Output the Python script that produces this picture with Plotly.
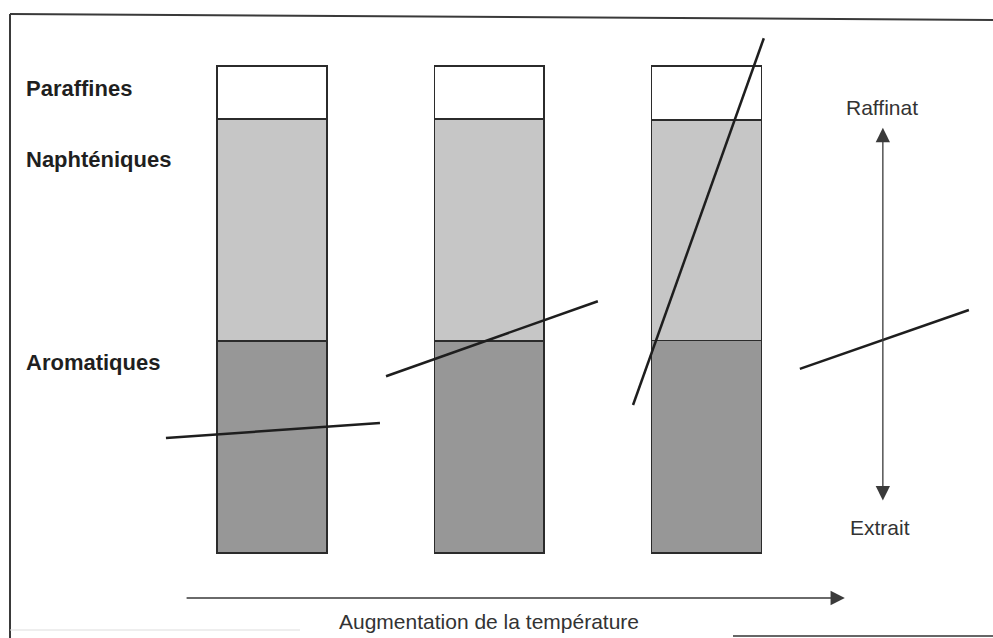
import plotly.graph_objects as go

# composition of each cut (% of the feed), bottom to top
positions = [1, 2, 3]
aromatiques = [43.5, 43.5, 43.6]
naphteniques = [45.6, 45.6, 45.3]
paraffines = [10.9, 10.9, 11.1]

# separation lines (raffinat / extrait) at increasing temperature
cut_x = [[0.512, 1.497], [1.525, 2.500], [2.662, 3.264], [3.430, 4.208]]
cut_y = [[23.6, 26.7], [36.3, 51.7], [30.4, 105.7], [37.8, 49.9]]

# arrows (start, end)
arrow_v_x = 3.812
arrow_v_y = [10.5, 87.3]
arrow_h_x = [0.600, 3.637]
arrow_h_y = -9.24

W, H = 993, 638
EDGE = "#2b2b2b"


def px(x):
    return x / W


def py(y):
    return 1 - y / H


fig = go.Figure()

for name, vals, color in [
    ("Aromatiques", aromatiques, "#979797"),
    ("Naphténiques", naphteniques, "#c6c6c6"),
    ("Paraffines", paraffines, "#ffffff"),
]:
    fig.add_trace(go.Bar(
        x=positions,
        y=vals,
        name=name,
        width=0.506,
        marker=dict(color=color, line=dict(color=EDGE, width=1.5)),
        hoverinfo="skip",
    ))

for xs, ys in zip(cut_x, cut_y):
    fig.add_trace(go.Scatter(
        x=xs, y=ys, mode="lines",
        line=dict(color="#1e1e1e", width=2.5),
        hoverinfo="skip",
    ))

annotations = []

# double arrow Raffinat / Extrait
annotations.append(dict(
    x=arrow_v_x, y=arrow_v_y[1], ax=arrow_v_x, ay=arrow_v_y[0],
    xref="x", yref="y", axref="x", ayref="y",
    showarrow=True, arrowhead=2, arrowside="end+start",
    arrowsize=2.2, arrowwidth=1.3, arrowcolor="#3a3a3a",
    standoff=0, startstandoff=0, text="",
))
# temperature arrow
annotations.append(dict(
    x=arrow_h_x[1], y=arrow_h_y, ax=arrow_h_x[0], ay=arrow_h_y,
    xref="x", yref="y", axref="x", ayref="y",
    showarrow=True, arrowhead=2, arrowsize=2.2, arrowwidth=1.3,
    arrowcolor="#3a3a3a", standoff=0, text="",
))

bold_font = dict(family="Liberation Sans, Arial, sans-serif", size=22, color="#1f1f1f")
reg_font = dict(family="Liberation Sans, Arial, sans-serif", size=21, color="#333333")

for label, ypx in [("Paraffines", 88), ("Naphténiques", 160), ("Aromatiques", 362)]:
    annotations.append(dict(
        x=px(24), y=py(ypx), xref="paper", yref="paper",
        xanchor="left", yanchor="middle", showarrow=False,
        text=f"<b>{label}</b>", font=bold_font,
    ))

for label, xpx, ypx in [("Raffinat", 882, 107), ("Extrait", 880, 527),
                        ("Augmentation de la température", 489, 621)]:
    annotations.append(dict(
        x=px(xpx), y=py(ypx), xref="paper", yref="paper",
        xanchor="center", yanchor="middle", showarrow=False,
        text=label, font=reg_font,
    ))

# frame around the figure
frame = dict(type="line", xref="paper", yref="paper", line=dict(color="#3a3a3a", width=2))
shapes = [
    dict(frame, x0=px(10), y0=py(14), x1=1, y1=py(20)),
    dict(frame, x0=px(10), y0=py(14), x1=px(10), y1=0),
    dict(frame, x0=px(733), y0=py(636), x1=1, y1=py(636), line=dict(color="#666666", width=2)),
    dict(frame, x0=px(10), y0=py(630), x1=px(300), y1=py(630), line=dict(color="#dddddd", width=1)),
]

fig.update_layout(
    width=W, height=H,
    margin=dict(l=0, r=0, t=0, b=0),
    barmode="stack",
    showlegend=False,
    paper_bgcolor="white",
    plot_bgcolor="white",
    annotations=annotations,
    shapes=shapes,
)
fig.update_xaxes(range=[-0.252, 4.319], visible=False, fixedrange=True)
fig.update_yaxes(range=[-17.45, 113.55], visible=False, fixedrange=True)

fig.write_html(
    "out.html",
    config={"displayModeBar": False},
    post_script="document.body.style.margin='0px';document.body.style.overflow='hidden';",
)
